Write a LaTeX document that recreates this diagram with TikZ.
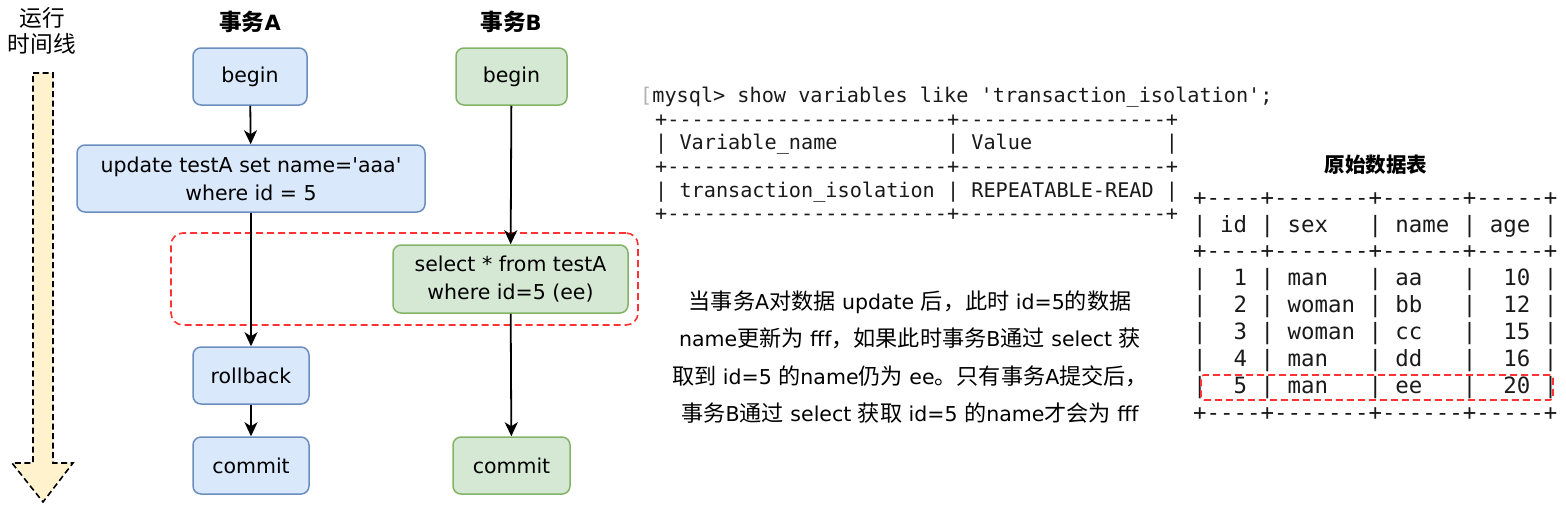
\documentclass[tikz,border=0pt]{standalone}
\usepackage{fontspec}
\setmainfont{DejaVu Sans}[Ligatures=TeXOff]
\newfontfamily\cjkfont{Noto Sans CJK SC}[Ligatures=TeXOff,Scale=1.08]
\newfontfamily\monof{DejaVu Sans Mono}[Ligatures=TeXOff]
\newcommand{\zh}[1]{{\cjkfont #1}}
\usetikzlibrary{arrows.meta}
\definecolor{fillA}{HTML}{DAE8FC}
\definecolor{lineA}{HTML}{6C8EBF}
\definecolor{fillB}{HTML}{D5E8D4}
\definecolor{lineB}{HTML}{82B366}
\definecolor{timefill}{HTML}{FFF2CC}
\definecolor{redd}{HTML}{FF3333}
\definecolor{txt}{HTML}{1A1A1A}
\tikzset{
  base/.style={rounded corners=8pt, line width=1.5pt, align=center, inner sep=0pt,
    font=\fontsize{20.5}{28}\selectfont},
  boxa/.style={base, draw=lineA, fill=fillA},
  boxb/.style={base, draw=lineB, fill=fillB},
  conn/.style={line width=1.8pt, -{Stealth[length=14pt,width=13pt,inset=4pt]}},
  title/.style={font=\fontsize{21}{24}\selectfont\bfseries},
  tl/.style={anchor=west, inner sep=0pt, text height=14pt, text depth=4pt,
    font=\monof\fontsize{20.2}{24}\selectfont, text=txt},
  tr/.style={anchor=west, inner sep=0pt, text height=15pt, text depth=4pt,
    font=\monof\fontsize{22.4}{27}\selectfont, text=txt},
  reddash/.style={draw=redd, line width=1.6pt, dash pattern=on 7pt off 4pt}
}
\begin{document}
\begin{tikzpicture}[x=1pt,y=-1pt]
\useasboundingbox (0,0) rectangle (1566,514);
% time line
\node[align=center, font=\cjkfont\fontsize{21}{26}\selectfont] (tlabel) at (42,31) {运行\\时间线};
\draw[fill=timefill, line width=1.6pt, dash pattern=on 6pt off 3.5pt]
  (33,73) -- (53,73) -- (53,463) -- (73,463) -- (43,502) -- (12,463) -- (33,463) -- cycle;
% titles
\node[title] (ta) at (250,22) {\zh{事务}A};
\node[title] (tb) at (511,22) {\zh{事务}B};
% transaction A
\node[boxa, minimum width=114pt, minimum height=57pt] (abegin) at (250,76.5) {begin};
\node[boxa, minimum width=348pt, minimum height=67pt] (aupd) at (251,178.5) {update testA set name='aaa'\\where id = 5};
\node[boxa, minimum width=116pt, minimum height=57pt] (aroll) at (251,375.5) {rollback};
\node[boxa, minimum width=116pt, minimum height=57pt] (acommit) at (251,465.5) {commit};
% transaction B
\node[boxb, minimum width=111pt, minimum height=57pt] (bbegin) at (511.5,76.5) {begin};
\node[boxb, minimum width=235pt, minimum height=68pt] (bsel) at (510.5,279) {select * from testA\\where id=5 (ee)};
\node[boxb, minimum width=117pt, minimum height=57pt] (bcommit) at (511.5,465.5) {commit};
% red dashed region
\node[reddash, rounded corners=12pt, minimum width=467pt, minimum height=92pt] (region) at (404.5,279) {};
% connectors
\draw[conn] (abegin) -- (aupd);
\draw[conn] (aupd) -- (aroll);
\draw[conn] (aroll) -- (acommit);
\draw[conn] (bbegin) -- (bsel);
\draw[conn] (bsel) -- (bcommit);
% mysql variables
\node[tl] (q) at (640,97) {\textcolor{gray!60}{[}mysql>~show~variables~like~'transaction\_isolation';};
\node[tl] (l1) at (655,121) {+-----------------------+-----------------+};
\node[tl] (l2) at (655,144) {|~Variable\_name~~~~~~~~~|~Value~~~~~~~~~~~|};
\node[tl] (l3) at (655,168) {+-----------------------+-----------------+};
\node[tl] (l4) at (655,192) {|~transaction\_isolation~|~REPEATABLE-READ~|};
\node[tl] (l5) at (655,215) {+-----------------------+-----------------+};
% explanation
\node[align=center, font=\fontsize{20.5}{37.5}\selectfont] (expl) at (910,357)
 {\zh{当事务}A\zh{对数据} update \zh{后，此时} id=5\zh{的数据}\\
  name\zh{更新为} fff\zh{，如果此时事务}B\zh{通过} select \zh{获}\\
  \zh{取到} id=5 \zh{的}name\zh{仍为} ee\zh{。只有事务}A\zh{提交后，}\\
  \zh{事务}B\zh{通过} select \zh{获取} id=5 \zh{的}name\zh{才会为} fff};
% original table
\node[font=\cjkfont\fontsize{19}{24}\selectfont\bfseries] (tt) at (1376,165) {原始数据表};
\node[tr] (r0) at (1193,200) {+----+-------+------+-----+};
\node[tr] (r1) at (1193,227) {|~id~|~sex~~~|~name~|~age~|};
\node[tr] (r2) at (1193,253) {+----+-------+------+-----+};
\node[tr] (r3) at (1193,280) {|~~1~|~man~~~|~aa~~~|~~10~|};
\node[tr] (r4) at (1193,307) {|~~2~|~woman~|~bb~~~|~~12~|};
\node[tr] (r5) at (1193,334) {|~~3~|~woman~|~cc~~~|~~15~|};
\node[tr] (r6) at (1193,361) {|~~4~|~man~~~|~dd~~~|~~16~|};
\node[tr] (r7) at (1193,388) {|~~5~|~man~~~|~ee~~~|~~20~|};
\node[tr] (r8) at (1193,415) {+----+-------+------+-----+};
\node[reddash, rounded corners=3pt, minimum width=352pt, minimum height=25pt] (hl) at (1377,387.5) {};
\end{tikzpicture}
\end{document}
